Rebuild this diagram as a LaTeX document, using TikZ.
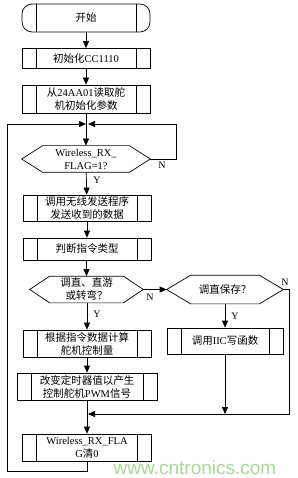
\documentclass[tikz,border=0pt]{standalone}
\usepackage{fontspec}
\setmainfont{Liberation Serif}
\newfontfamily\cjk{Noto Sans CJK SC}
\newfontfamily\wmfont{Liberation Sans}
\usetikzlibrary{arrows.meta}
\definecolor{wmgreen}{RGB}{170,215,150}
\begin{document}
\begin{tikzpicture}[x=1pt,y=-1pt,
  base/.style={line width=0.7pt, inner sep=0pt, align=center, font=\fontsize{10.5}{13}\selectfont},
  proc/.style={base, draw, rectangle, path picture={
     \draw[line width=0.7pt] ([xshift=14pt]path picture bounding box.north west) -- ([xshift=14pt]path picture bounding box.south west)
       ([xshift=-14pt]path picture bounding box.north east) -- ([xshift=-14pt]path picture bounding box.south east);}},
  term/.style={proc, rounded corners=10pt},
  hexn/.style={base},
  arr/.style={line width=0.7pt, -{Triangle[length=7pt,width=6pt]}},
  ln/.style={line width=0.7pt},
  lbl/.style={font=\fontsize{10}{10}\selectfont, inner sep=0pt}
]
\useasboundingbox (0,0) rectangle (297,478);

% main column
\node[term, minimum width=128pt, minimum height=28pt] (s) at (86,18) {{\cjk 开始}};
\node[proc, minimum width=128pt, minimum height=20pt] (b1) at (86,58.5) {{\cjk 初始化}CC1110};
\node[proc, minimum width=128pt, minimum height=28pt] (b2) at (86,99) {{\cjk 从}24AA01{\cjk 读取舵}\\{\cjk 机初始化参数}};
\node[hexn, minimum width=128pt, minimum height=26pt] (d1) at (86,159) {Wireless\_RX\_\\FLAG=1?};
\node[proc, minimum width=128pt, minimum height=26pt] (b3) at (87,208) {{\cjk 调用无线发送程序}\\{\cjk 发送收到的数据}};
\node[proc, minimum width=128pt, minimum height=22pt] (b4) at (87,249) {{\cjk 判断指令类型}};
\node[hexn, minimum width=113pt, minimum height=26pt] (d2) at (86.5,289.5) {{\cjk 调直、直游}\\{\cjk 或转弯？}};
\node[proc, minimum width=128pt, minimum height=27pt] (b5) at (87,343.5) {{\cjk 根据指令数据计算}\\{\cjk 舵机控制量}};
\node[proc, minimum width=140pt, minimum height=27pt] (b6) at (87,386.5) {{\cjk 改变定时器值以产生}\\{\cjk 控制舵机}PWM{\cjk 信号}};
\node[proc, minimum width=129pt, minimum height=27pt] (b7) at (87,447.5) {Wireless\_RX\_FLA\\G{\cjk 清}0};

% right branch
\node[hexn, minimum width=116pt, minimum height=28pt] (d3) at (225,289.5) {{\cjk 调直保存？}};
\node[proc, minimum width=116pt, minimum height=26pt] (b8) at (225,341) {{\cjk 调用}IIC{\cjk 写函数}};

% hexagon outlines
\foreach \n/\c in {d1/21,d2/20,d3/24}{
  \draw[ln] (\n.west) -- ([xshift=\c pt]\n.north west) -- ([xshift=-\c pt]\n.north east) -- (\n.east)
    -- ([xshift=-\c pt]\n.south east) -- ([xshift=\c pt]\n.south west) -- cycle;
}

\coordinate (m1) at (87,124);
\coordinate (m2) at (87,414);
\coordinate (lb) at (7,471);

\draw[arr] (s) -- (b1);
\draw[arr] (b1) -- (b2);
\draw[arr] (b2.south -| d1.north) -- (d1.north);
\draw[arr, shorten >=1pt] (d1.east) -- ++(26,0) |- (m1);
\draw[arr, shorten >=1pt] (b7.south) |- (lb) |- (m1);
\draw[arr] (d1) -- (b3);
\draw[arr] (b3) -- (b4);
\draw[arr] (b4.south -| d2.north) -- (d2.north);
\draw[arr] (d2.south -| b5.north) -- (b5.north);
\draw[arr] (b5) -- (b6);
\draw[arr] (b6) -- (b7);
\draw[arr] (d2.east) -- (d3.west);
\draw[arr, shorten >=1pt] (d3.east) -- ++(6,0) |- (m2);
\draw[arr] (d3) -- (b8);
\draw[arr] (b8.south) -- (b8.south |- m2);

% labels
\node[lbl] (y1) at (97,180) {Y};
\node[lbl] (n1) at (162,165) {N};
\node[lbl] (y2) at (97,314) {Y};
\node[lbl] (n2) at (150,297) {N};
\node[lbl] (y3) at (235,316) {Y};
\node[lbl] (n3) at (285,282) {N};

% watermark
\node[text=wmgreen, font=\wmfont\fontsize{19}{19}\selectfont, inner sep=0pt] (wm) at (195,468) {www.cntronics.com};
\end{tikzpicture}
\end{document}
